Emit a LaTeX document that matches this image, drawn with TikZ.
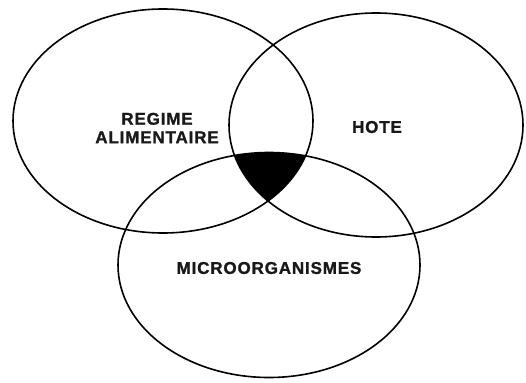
\documentclass[tikz,border=0pt]{standalone}
\usepackage{fontspec}
\setmainfont{Liberation Sans}
\newfontfamily\lblfont[LetterSpace=5,FakeBold=1.2]{Liberation Sans Bold}
\begin{document}
\begin{tikzpicture}[x=1pt,y=-1pt,
  ring/.style={draw=black,line width=1.6pt},
  lbl/.style={font=\lblfont\fontsize{17}{18.5}\selectfont,align=center,text=black!90}]
\useasboundingbox[fill=white] (0,0) rectangle (526,382);
\def\pathA{(163,121) ellipse [x radius=150,y radius=112]}
\def\pathB{(376,125) ellipse [x radius=147,y radius=112]}
\def\pathC{(269,265) ellipse [x radius=151,y radius=112.5]}
\begin{scope}
  \clip \pathA;
  \clip \pathB;
  \fill[black] \pathC;
\end{scope}
\draw[ring] \pathA;
\draw[ring] \pathB;
\draw[ring] \pathC;
\node[lbl] (regime) at (157,128) {REGIME\\ALIMENTAIRE};
\node[lbl] (hote) at (377,127) {HOTE};
\node[lbl] (micro) at (269,268) {MICROORGANISMES};
\end{tikzpicture}
\end{document}
